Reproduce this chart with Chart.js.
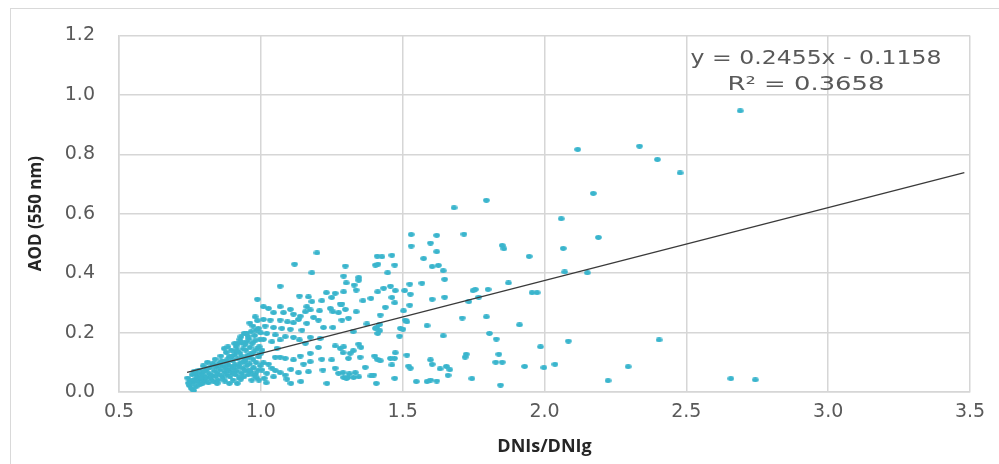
<!DOCTYPE html>
<html>
<head>
<meta charset="utf-8">
<title>AOD vs DNIs/DNIg</title>
<script src="https://cdn.jsdelivr.net/npm/chart.js@4.4.1/dist/chart.umd.min.js"></script>
<style>
  html, body { margin: 0; padding: 0; background: #fff; }
  #wrap { position: relative; width: 999px; height: 464px; overflow: hidden; }
  #frame { position: absolute; left: 10px; top: 8px; width: 1000px; height: 500px; border: 1px solid #d9d9d9; }
  #chart { position: absolute; left: 0; top: 0; }
</style>
</head>
<body>
<div id="wrap">
  <div id="frame"></div>
  <canvas id="chart" width="999" height="464"></canvas>
</div>
<script>
/* ===================================================
   AOD (550 nm) against DNIs/DNIg – scatter + linear fit
   =================================================== */

// ── Data ───────────────────────────────────────────
// x: DNIs/DNIg ratio, y: AOD at 550 nm, same index = same point
const DNI_RATIO = [
  // dense cluster below 1.0
  0.742,0.748,0.751,0.755,0.758,0.762,0.765,0.768,0.772,0.775,0.779,0.782,0.785,0.788,0.791,0.794,0.797,0.799,
  0.802,0.806,0.809,0.812,0.815,0.818,0.821,0.824,0.827,0.830,0.833,0.836,0.839,0.841,0.844,0.847,0.850,0.853,
  0.856,0.859,0.861,0.864,0.867,0.870,0.872,0.875,0.878,0.880,0.883,0.886,0.888,0.891,0.893,0.896,0.898,0.900,
  0.902,0.904,0.907,0.909,0.911,0.913,0.916,0.918,0.920,0.922,0.924,0.926,0.928,0.930,0.932,0.934,0.936,0.938,
  0.940,0.941,0.943,0.945,0.947,0.949,0.951,0.953,0.955,0.957,0.958,0.960,0.962,0.964,0.966,0.968,0.970,0.972,
  0.974,0.976,0.978,0.980,0.981,0.983,0.984,0.986,0.988,0.988,0.990,0.992,0.994,0.996,0.998,1.000,
  0.846,0.873,0.889,0.905,0.917,0.929,0.937,0.948,0.959,0.967,0.975,0.985,0.993,0.999,0.950,0.961,0.972,0.935,
  0.919,0.897,0.881,0.862,0.834,0.811,0.798,0.787,0.770,0.757,0.745,0.763,
  0.908,0.926,0.944,0.955,0.963,0.979,0.991,0.871,0.884,0.912,
  // 1.0 – 1.3
  1.198,1.119,1.180,1.068,1.136,1.168,1.180,1.231,1.262,1.250,1.215,1.280,1.009,1.027,1.068,1.104,1.162,1.174,
  1.157,1.207,1.245,1.254,1.274,1.045,1.080,1.115,1.139,1.133,1.186,1.203,1.009,1.033,1.068,1.094,1.115,1.162,
  1.221,1.254,1.015,1.045,1.074,1.104,1.145,1.021,1.051,1.086,1.115,1.174,1.209,1.009,1.039,1.068,1.136,1.157,
  1.262,1.280,1.203,1.057,1.139,1.174,1.051,1.068,1.086,1.115,1.215,1.250,1.009,1.027,1.151,1.174,1.039,1.051,
  1.106,1.219,1.262,1.274,1.021,1.068,1.086,1.133,1.168,1.045,1.092,1.292,1.302,1.012,1.019,1.106,1.141,1.233,
  1.004,1.004,
  // 1.3 – 1.55
  1.530,1.410,1.427,1.462,1.298,1.404,1.413,1.472,1.447,1.292,1.345,1.345,1.301,1.329,1.336,1.433,1.457,1.412,
  1.474,1.525,1.292,1.507,1.527,1.360,1.388,1.462,1.472,1.525,1.286,1.298,1.336,1.439,1.421,1.503,1.286,1.309,
  1.509,1.515,1.374,1.419,1.408,1.326,1.419,1.404,1.492,1.501,1.412,1.489,1.292,1.345,1.353,1.326,1.315,1.290,
  1.309,1.350,1.401,1.410,1.457,1.471,1.474,1.515,1.421,1.462,1.368,1.521,1.527,1.290,1.312,1.333,1.398,1.388,
  1.306,1.327,1.345,1.472,1.407,1.548,1.586,1.530,
  // 1.55 – 2.0
  1.795,1.681,1.716,1.620,1.598,1.620,1.851,1.857,1.574,1.946,1.604,1.626,1.643,1.568,1.648,1.873,1.748,1.756,
  1.801,1.956,1.974,1.604,1.648,1.733,1.768,1.710,1.795,1.586,1.912,1.643,1.806,1.830,1.986,1.598,1.604,1.724,
  1.720,1.839,1.828,1.851,1.632,1.654,1.666,1.930,1.660,1.744,1.598,1.620,1.845,
  // above 2.0
  2.117,2.335,2.398,2.478,2.172,2.059,2.190,2.066,2.071,2.151,2.084,2.404,1.998,2.037,2.295,2.224,2.690,2.657,
  2.743
];

const AOD_550 = [
  0.047,0.022,0.035,0.012,0.058,0.030,0.068,0.043,0.018,0.052,0.035,0.074,0.026,0.060,0.045,0.029,0.088,0.055,
  0.038,0.072,0.049,0.100,0.031,0.062,0.083,0.044,0.056,0.095,0.036,0.071,0.110,0.052,0.085,0.063,0.040,0.096,
  0.075,0.121,0.055,0.088,0.047,0.104,0.068,0.081,0.133,0.058,0.094,0.074,0.119,0.051,0.087,0.141,0.066,0.105,
  0.040,0.079,0.125,0.092,0.058,0.152,0.071,0.112,0.164,0.086,0.048,0.131,0.097,0.186,0.063,0.118,0.080,0.145,
  0.051,0.197,0.103,0.072,0.141,0.168,0.089,0.122,0.058,0.178,0.119,0.095,0.150,0.068,0.203,0.040,0.164,0.110,
  0.082,0.135,0.190,0.253,0.061,0.099,0.208,0.145,0.240,0.312,0.074,0.118,0.152,0.176,0.088,0.130,
  0.029,0.037,0.029,0.061,0.029,0.043,0.101,0.111,0.074,0.126,0.057,0.048,0.040,0.199,0.198,0.232,0.222,0.165,
  0.138,0.119,0.108,0.104,0.091,0.078,0.069,0.047,0.063,0.039,0.030,0.005,
  0.163,0.176,0.159,0.187,0.128,0.172,0.214,0.146,0.152,0.137,

  0.468,0.430,0.401,0.356,0.323,0.320,0.304,0.334,0.332,0.318,0.307,0.296,0.287,0.281,0.287,0.278,0.287,0.276,
  0.270,0.273,0.281,0.270,0.267,0.267,0.267,0.262,0.255,0.244,0.251,0.242,0.244,0.242,0.242,0.236,0.233,0.231,
  0.217,0.217,0.222,0.217,0.214,0.211,0.208,0.197,0.192,0.186,0.184,0.184,0.180,0.177,0.169,0.175,0.175,0.164,
  0.155,0.147,0.150,0.147,0.121,0.130,0.117,0.117,0.113,0.108,0.110,0.108,0.098,0.094,0.094,0.102,0.080,0.072,
  0.076,0.074,0.080,0.063,0.063,0.065,0.057,0.065,0.068,0.051,0.043,0.049,0.046,0.046,0.031,0.029,0.035,0.029,
  0.074,0.141,

  0.491,0.457,0.455,0.460,0.424,0.427,0.430,0.427,0.401,0.390,0.385,0.376,0.367,0.360,0.343,0.349,0.356,0.337,
  0.341,0.363,0.337,0.341,0.329,0.307,0.315,0.318,0.300,0.292,0.296,0.278,0.270,0.285,0.259,0.273,0.242,0.248,
  0.242,0.236,0.229,0.227,0.217,0.203,0.206,0.214,0.214,0.211,0.197,0.188,0.152,0.161,0.150,0.139,0.130,0.132,
  0.113,0.117,0.121,0.110,0.113,0.113,0.132,0.124,0.105,0.091,0.083,0.087,0.080,0.065,0.061,0.065,0.057,0.054,
  0.049,0.049,0.051,0.046,0.029,0.035,0.035,0.530,

  0.645,0.620,0.531,0.527,0.501,0.472,0.493,0.482,0.449,0.456,0.422,0.426,0.408,0.366,0.379,0.367,0.341,0.345,
  0.345,0.334,0.334,0.312,0.319,0.304,0.319,0.249,0.253,0.223,0.226,0.189,0.197,0.178,0.152,0.108,0.093,0.127,
  0.117,0.127,0.100,0.100,0.078,0.086,0.075,0.086,0.056,0.045,0.040,0.037,0.023,

  0.816,0.827,0.782,0.737,0.668,0.583,0.520,0.483,0.404,0.401,0.171,0.175,0.082,0.093,0.085,0.038,0.946,0.045,
  0.041
];

// Linear fit as printed on the chart
const TREND_SLOPE = 0.2455;
const TREND_INTERCEPT = -0.1158;
const TREND_X_RANGE = [0.74, 3.48];
const TREND_LABELS = ["y = 0.2455x - 0.1158", "R\u00B2 = 0.3658"];

const X_TICKS = [0.5, 1.0, 1.5, 2.0, 2.5, 3.0, 3.5];
const Y_TICKS = [0.0, 0.2, 0.4, 0.6, 0.8, 1.0, 1.2];

// ── Styles ─────────────────────────────────────────
const POINT_COLOR = "#3ab5cd";
const GRID_COLOR  = "#d6d6d6";
const TEXT_COLOR  = "#595959";
const WIDE_FONT   = "'DejaVu Sans', 'Open Sans', sans-serif";
const TITLE_FONT  = "'Open Sans', 'Liberation Sans', sans-serif";

// slightly wide dots, like the exported picture
function makeDot() {
  const c = document.createElement("canvas");
  c.width = 7; c.height = 5;
  const g = c.getContext("2d");
  g.fillStyle = POINT_COLOR;
  g.beginPath();
  g.ellipse(3.5, 2.5, 3.3, 2.4, 0, 0, Math.PI * 2);
  g.fill();
  return c;
}

// equation text in the top right corner of the plot (picture is stretched sideways)
const equationPlugin = {
  id: "equation",
  afterDatasetsDraw(chart) {
    const { ctx, chartArea } = chart;
    const lines = [
      [TREND_LABELS[0], chartArea.right - 154, chartArea.top + 24, 1.24],
      [TREND_LABELS[1], chartArea.right - 164, chartArea.top + 50, 1.36],
    ];
    lines.forEach(([text, cx, cy, stretch]) => {
      ctx.save();
      ctx.fillStyle = TEXT_COLOR;
      ctx.font = `19px ${WIDE_FONT}`;
      ctx.textAlign = "center";
      ctx.textBaseline = "middle";
      ctx.translate(cx, cy);
      ctx.scale(stretch, 1);
      ctx.fillText(text, 0, 0);
      ctx.restore();
    });
  },
};

// ── Chart ──────────────────────────────────────────
const points = DNI_RATIO.map((x, i) => ({ x, y: AOD_550[i] }));
const trend = TREND_X_RANGE.map(x => ({ x, y: TREND_SLOPE * x + TREND_INTERCEPT }));

new Chart(document.getElementById("chart"), {
  type: "scatter",
  data: {
    datasets: [
      {
        type: "line",
        label: "Linear",
        data: trend,
        borderColor: "#3a3a3a",
        borderWidth: 1.3,
        pointRadius: 0,
        fill: false,
      },
      {
        label: "AOD",
        data: points,
        pointStyle: makeDot(),
        pointRadius: 3,
        backgroundColor: POINT_COLOR,
        borderWidth: 0,
      },
    ],
  },
  options: {
    responsive: false,
    animation: false,
    devicePixelRatio: 1,
    layout: { padding: { top: 34, right: 29, left: 0, bottom: 0 } },
    plugins: { legend: { display: false }, tooltip: { enabled: false } },
    scales: {
      x: {
        type: "linear",
        min: X_TICKS[0],
        max: X_TICKS[X_TICKS.length - 1],
        afterBuildTicks: s => { s.ticks = X_TICKS.map(v => ({ value: v })); },
        afterFit: s => { s.height = 72; },
        grid: { color: GRID_COLOR, lineWidth: 1.5, drawTicks: false },
        border: { color: GRID_COLOR, width: 1.5 },
        ticks: {
          color: TEXT_COLOR,
          font: { family: WIDE_FONT, size: 19 },
          padding: 9,
          maxRotation: 0,
          callback: v => Number(v).toFixed(1),
        },
        title: {
          display: true,
          text: "DNIs/DNIg",
          color: "#262626",
          font: { family: TITLE_FONT, size: 18, weight: "bold" },
          padding: { top: 0, bottom: 6 },
        },
      },
      y: {
        type: "linear",
        min: Y_TICKS[0],
        max: Y_TICKS[Y_TICKS.length - 1],
        afterBuildTicks: s => { s.ticks = Y_TICKS.map(v => ({ value: v })); },
        afterFit: s => { s.width = 119; },
        grid: { color: GRID_COLOR, lineWidth: 1.5, drawTicks: false },
        border: { color: GRID_COLOR, width: 1.5 },
        ticks: {
          color: TEXT_COLOR,
          font: { family: WIDE_FONT, size: 19 },
          padding: 24,
          callback: v => Number(v).toFixed(1),
        },
        title: {
          display: true,
          text: "AOD (550 nm)",
          color: "#262626",
          font: { family: TITLE_FONT, size: 17, weight: "bold" },
          padding: { top: 26, bottom: 0 },
        },
      },
    },
  },
  plugins: [equationPlugin],
});
</script>
</body>
</html>
